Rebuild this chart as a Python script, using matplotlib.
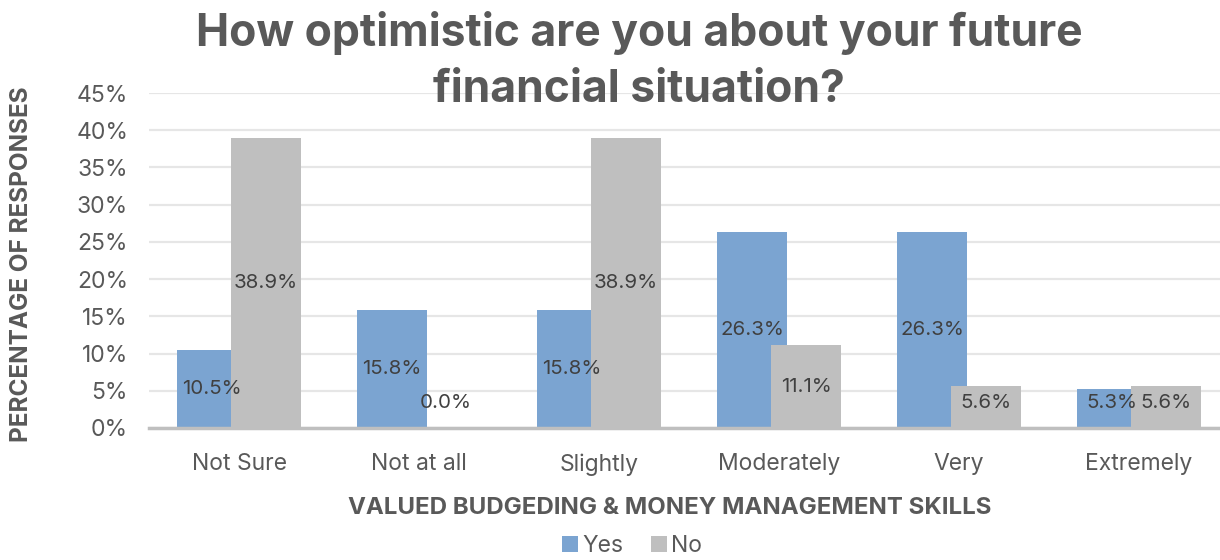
import numpy as np
import matplotlib
matplotlib.use("Agg")
import matplotlib.pyplot as plt

plt.rcParams['font.family'] = ['Inter', 'DejaVu Sans']

categories = ["Not Sure", "Not at all", "Slightly", "Moderately", "Very", "Extremely"]
yes_pct = [10.5, 15.8, 15.8, 26.3, 26.3, 5.3]
no_pct = [38.9, 0.0, 38.9, 11.1, 5.6, 5.6]
yticks = [0, 5, 10, 15, 20, 25, 30, 35, 40, 45]

blue = "#7BA4D1"
grey = "#BFBFBF"
txt = "#595959"
lbl = "#404040"

fig = plt.figure(figsize=(12.2, 5.6), dpi=100)
ax = fig.add_axes([149/1220, 132/560, 1080/1220, 335/560])

x = np.arange(len(categories))
w = 0.39
off = 0.15
ax.bar(x - off, yes_pct, w, color=blue, label="Yes", zorder=2)
ax.bar(x + off, no_pct, w, color=grey, label="No", zorder=3)

# value labels sit in the middle of each bar
for xi, v in zip(x - off, yes_pct):
    ax.text(xi, max(v / 2, 3.3), f"{v:.1f}%", ha="center", va="center",
            fontsize=14.8, color=lbl, zorder=5)
for xi, v in zip(x + off, no_pct):
    ax.text(xi, max(v / 2, 3.3), f"{v:.1f}%", ha="center", va="center",
            fontsize=14.8, color=lbl, zorder=5)

ax.set_xlim(-0.5, len(categories) - 0.5)
ax.set_ylim(0, 45)
ax.set_yticks(yticks)
ax.set_yticklabels([f"{t}%" for t in yticks])
ax.set_xticks(x)
ax.set_xticklabels(categories)
ax.tick_params(axis="both", length=0, labelsize=16.5, colors=txt)
ax.tick_params(axis="x", pad=18)
ax.tick_params(axis="y", pad=15)
ax.yaxis.grid(True, color="#E6E6E6", linewidth=1.6, zorder=0)
ax.set_axisbelow(True)
for s in ["top", "right", "left"]:
    ax.spines[s].set_visible(False)
ax.spines["bottom"].set_color("#BFBFBF")
ax.spines["bottom"].set_linewidth(2.5)
ax.spines["bottom"].set_zorder(4)

fig.text(22/1220, 1 - 264/560, "PERCENTAGE OF RESPONSES", rotation=90,
         ha="center", va="center", fontsize=17.5, fontweight="bold", color=txt)
fig.text(670/1220, 1 - 508/560, "VALUED BUDGEDING & MONEY MANAGEMENT SKILLS",
         ha="center", va="center", fontsize=17.3, fontweight="bold", color=txt)
fig.text(639/1220, 1 - 61/560, "How optimistic are you about your future\nfinancial situation?",
         ha="center", va="center", fontsize=32, fontweight="bold", color=txt,
         linespacing=1.4)

leg = fig.legend(loc="center", bbox_to_anchor=(632/1220, 1 - 546/560), ncol=2,
                 frameon=False, fontsize=16.5, handlelength=0.7, handleheight=0.7,
                 handletextpad=0.2, columnspacing=1.2)
for t in leg.get_texts():
    t.set_color(txt)

fig.savefig("out.png", dpi=100)
